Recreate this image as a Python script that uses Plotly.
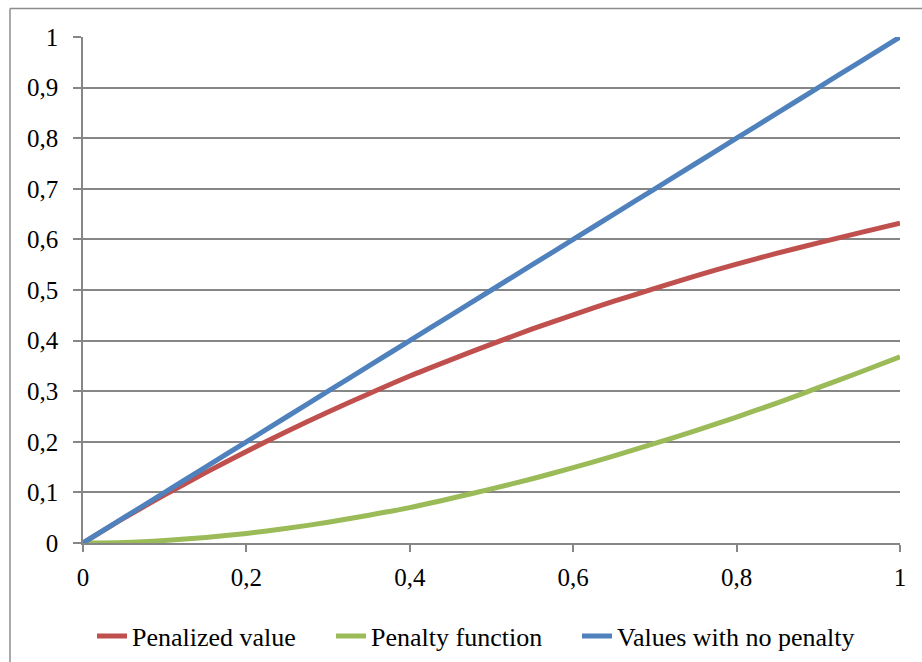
import plotly.graph_objects as go

# x positions (0 to 1 in steps of 0.05)
x_vals = [0, 0.05, 0.1, 0.15, 0.2, 0.25, 0.3, 0.35, 0.4, 0.45, 0.5,
          0.55, 0.6, 0.65, 0.7, 0.75, 0.8, 0.85, 0.9, 0.95, 1]

penalized_value = [0, 0.049, 0.095, 0.139, 0.181, 0.221, 0.259, 0.295, 0.330,
                   0.362, 0.393, 0.423, 0.451, 0.478, 0.503, 0.528, 0.551,
                   0.573, 0.593, 0.613, 0.632]

penalty_function = [0, 0.001, 0.005, 0.011, 0.019, 0.029, 0.041, 0.055, 0.070,
                    0.088, 0.107, 0.127, 0.149, 0.172, 0.197, 0.222, 0.249,
                    0.277, 0.307, 0.337, 0.368]

no_penalty = [0, 0.05, 0.1, 0.15, 0.2, 0.25, 0.3, 0.35, 0.4, 0.45, 0.5,
              0.55, 0.6, 0.65, 0.7, 0.75, 0.8, 0.85, 0.9, 0.95, 1]

series = [
    ("Penalized value", penalized_value, "#C0504D"),
    ("Penalty function", penalty_function, "#9BBB59"),
    ("Values with no penalty", no_penalty, "#4F81BD"),
]

FONT = "Liberation Serif, Times New Roman, serif"
GRID = "#868686"

W, H = 922, 662
L, R, T, B = 83, 22, 37, 119
pw, ph = W - L - R, H - T - B

def px_x(px):
    return (px - L) / pw

def px_y(py):
    return (H - B - py) / ph

# one legend box per series so each entry sits at its own spot
legend_ids = ["legend", "legend2", "legend3"]
legend_left_px = [92, 331, 577]

fig = go.Figure()
for (name, ys, color), lid in zip(series, legend_ids):
    fig.add_trace(go.Scatter(
        x=x_vals, y=ys, name=name, mode="lines",
        line=dict(color=color, width=5, shape="spline", smoothing=0.6),
        cliponaxis=False, legend=lid,
    ))

# outer chart frame (left and top edges)
fig.add_shape(type="line", xref="paper", yref="paper",
              x0=px_x(10), x1=px_x(10), y0=px_y(670), y1=px_y(8.5),
              line=dict(color="#8c8c8c", width=1.5))
fig.add_shape(type="line", xref="paper", yref="paper",
              x0=px_x(10), x1=px_x(930), y0=px_y(8.5), y1=px_y(8.5),
              line=dict(color="#8c8c8c", width=1.5))

legend_style = dict(orientation="h", xanchor="left",
                    y=px_y(636), yanchor="middle",
                    bgcolor="rgba(0,0,0,0)",
                    font=dict(family=FONT, size=26, color="black"),
                    itemwidth=30, tracegroupgap=0)

fig.update_layout(
    width=W, height=H,
    margin=dict(l=L, r=R, t=T, b=B, autoexpand=False),
    paper_bgcolor="white", plot_bgcolor="white",
    separators=", ",
    font=dict(family=FONT, size=25, color="black"),
    showlegend=True,
    xaxis=dict(range=[0, 1], tickvals=[0, 0.2, 0.4, 0.6, 0.8, 1],
               showgrid=False, zeroline=False,
               showline=True, linecolor=GRID, linewidth=1.5,
               ticks="outside", ticklen=7, tickcolor=GRID, tickwidth=1.5,
               ticklabelstandoff=4,
               tickfont=dict(family=FONT, size=25, color="black")),
    yaxis=dict(range=[0, 1], tickvals=[0, 0.1, 0.2, 0.3, 0.4, 0.5, 0.6, 0.7, 0.8, 0.9, 1],
               showgrid=True, gridcolor=GRID, gridwidth=1.5,
               zeroline=False,
               showline=True, linecolor=GRID, linewidth=1.5,
               ticks="outside", ticklen=8, tickcolor=GRID, tickwidth=1.5,
               ticklabelstandoff=10,
               tickfont=dict(family=FONT, size=25, color="black")),
)
for lid, lx in zip(legend_ids, legend_left_px):
    fig.update_layout({lid: dict(legend_style, x=px_x(lx))})

fig.write_html("out.html")
